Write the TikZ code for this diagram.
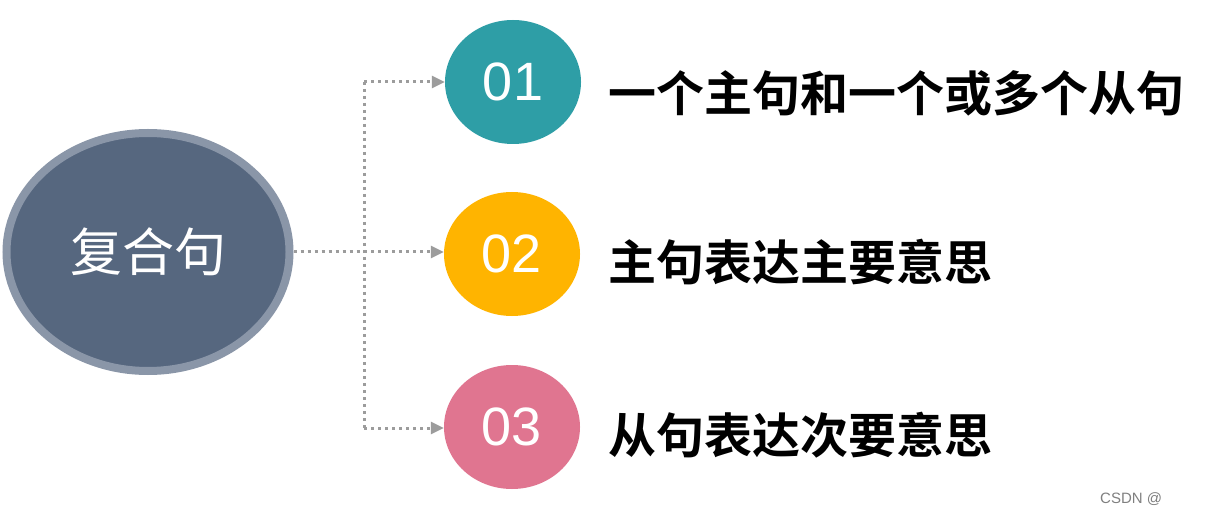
\documentclass[tikz,border=0pt]{standalone}
\usepackage{fontspec}
\setmainfont{Liberation Sans}
\newfontfamily\cjk[BoldFont={Noto Sans CJK SC Bold}]{Noto Sans CJK SC}
\usetikzlibrary{shapes.geometric,arrows.meta}
\definecolor{mainfill}{HTML}{56677F}
\definecolor{mainring}{HTML}{8A96A8}
\definecolor{cteal}{HTML}{2E9EA6}
\definecolor{camber}{HTML}{FFB400}
\definecolor{cpink}{HTML}{E07590}
\definecolor{conn}{HTML}{9C9C9C}
\tikzset{
  numcirc/.style={ellipse, minimum width=136pt, minimum height=124pt, inner sep=0pt,
    text=white, font=\fontsize{54}{54}\selectfont},
  label/.style={anchor=west, inner sep=0pt, font=\cjk\bfseries\fontsize{48}{48}\selectfont, text=black},
  dotline/.style={draw=conn, line width=3pt, dash pattern=on 3pt off 4pt},
  arr/.style={dotline, -{Triangle[length=13pt,width=12pt,fill=conn]}},
}
\begin{document}
\begin{tikzpicture}[x=1pt,y=-1pt]
\useasboundingbox (0,0) rectangle (1222,518);
\fill[white] (0,0) rectangle (1222,518);
\node[ellipse, draw=mainring, line width=8pt, fill=mainfill, minimum width=283pt, minimum height=238pt, inner sep=0pt,
  text=white, font=\cjk\fontsize{52}{52}\selectfont] (main) at (148,252) {复合句};
\node[numcirc, fill=cteal] (c1) at (513,82) {01};
\node[numcirc, fill=camber] (c2) at (512,254) {02};
\node[numcirc, fill=cpink] (c3) at (512,427) {03};
\node[label] (t1) at (608,93) {一个主句和一个或多个从句};
\node[label] (t2) at (608,262) {主句表达主要意思};
\node[label] (t3) at (608,435) {从句表达次要意思};
\coordinate (vt) at (364,82);
\coordinate (vm) at (364,252);
\coordinate (vb) at (364,428);
\draw[dotline] (main.east) -- (vm);
\draw[dotline] (vt) -- (vb);
\draw[arr] (vt) -- (c1.west);
\draw[arr] (vm) -- (c2.west |- vm);
\draw[arr] (vb) -- (c3.west |- vb);
\node[anchor=west, inner sep=0pt, text=black!50, font=\fontsize{15}{15}\selectfont] (wm) at (1100,499) {CSDN @};
\end{tikzpicture}
\end{document}
